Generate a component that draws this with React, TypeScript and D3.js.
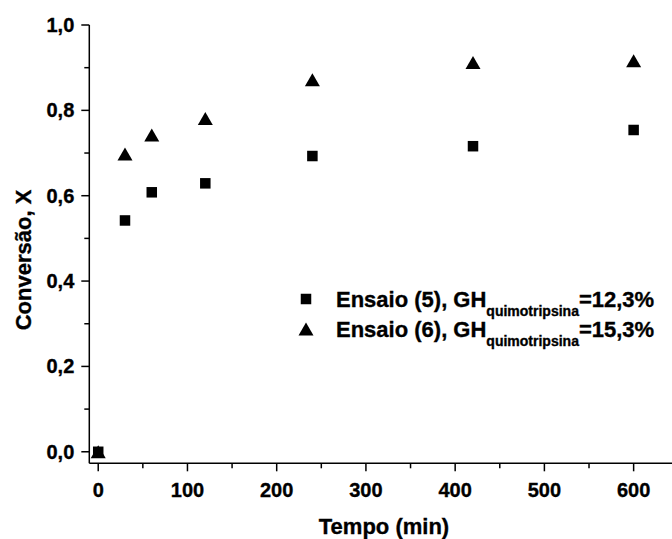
import React from "react";
import * as d3 from "d3";

const times = [0, 30, 60, 120, 240, 420, 600];
const ensaio5 = [0.0, 0.542, 0.608, 0.629, 0.693, 0.716, 0.754];
const ensaio6 = [0.0, 0.698, 0.742, 0.781, 0.872, 0.912, 0.916];
const xMajorTicks = [0, 100, 200, 300, 400, 500, 600];
const xMinorTicks = [50, 150, 250, 350, 450, 550];
const yMajorTicks = [0, 0.2, 0.4, 0.6, 0.8, 1.0];
const yMinorTicks = [0.1, 0.3, 0.5, 0.7, 0.9];

const W = 672;
const H = 539;
const FONT = "'Liberation Sans', Arial, Helvetica, sans-serif";

export default function App() {
  const x = d3.scaleLinear().domain([-10, 643]).range([89.3, 672]);
  const y = d3.scaleLinear().domain([-0.027, 1]).range([463.3, 25]);
  const x0 = x.range()[0];
  const yBase = y.range()[0];
  const fmt = (v: number) => d3.format(".1f")(v).replace(".", ",");
  const sq = 10.5;

  const triPath = (w: number, h: number) =>
    `M0,${-h / 2}L${w / 2},${h / 2}L${-w / 2},${h / 2}Z`;

  return (
    <svg
      width={W}
      height={H}
      style={{ position: "absolute", left: 0, top: 0, background: "#fff" }}
      fontFamily={FONT}
      fontWeight="bold"
    >
      <rect width={W} height={H} fill="#fff" />
      <g stroke="#000" strokeWidth={0.35}>
        {yMajorTicks.map((t) => (
          <text key={"yl" + t} x={x0 - 15} y={y(t)} dy="0.35em" textAnchor="end" fontSize={20}>
            {fmt(t)}
          </text>
        ))}
        {xMajorTicks.map((t) => (
          <text key={"xl" + t} x={x(t)} y={497} textAnchor="middle" fontSize={20}>
            {t}
          </text>
        ))}
        <text x={384} y={534} textAnchor="middle" fontSize={22}>
          Tempo (min)
        </text>
        <text transform="translate(31,260) rotate(-90)" textAnchor="middle" fontSize={22}>
          Conversão, X
        </text>
        <text x={336} y={307} fontSize={22}>
          Ensaio (5), GH
          <tspan fontSize={14} dy={9}>quimotripsina</tspan>
          <tspan dy={-9}>=12,3%</tspan>
        </text>
        <text x={336} y={337} fontSize={22}>
          Ensaio (6), GH
          <tspan fontSize={14} dy={9}>quimotripsina</tspan>
          <tspan dy={-9}>=15,3%</tspan>
        </text>
      </g>
      {/* axes */}
      <line x1={x0} x2={x0} y1={y(1)} y2={yBase} stroke="#000" strokeWidth={1.5} />
      <line x1={x0} x2={W} y1={yBase} y2={yBase} stroke="#000" strokeWidth={1.5} />
      {yMajorTicks.map((t) => (
        <line key={"ym" + t} x1={x0 - 8} x2={x0} y1={y(t)} y2={y(t)} stroke="#000" strokeWidth={1.5} />
      ))}
      {yMinorTicks.map((t) => (
        <line key={"yn" + t} x1={x0 - 5} x2={x0} y1={y(t)} y2={y(t)} stroke="#000" strokeWidth={1.5} />
      ))}
      {xMajorTicks.map((t) => (
        <line key={"xm" + t} x1={x(t)} x2={x(t)} y1={yBase} y2={yBase + 8} stroke="#000" strokeWidth={1.5} />
      ))}
      {xMinorTicks.map((t) => (
        <line key={"xn" + t} x1={x(t)} x2={x(t)} y1={yBase} y2={yBase + 5} stroke="#000" strokeWidth={1.5} />
      ))}
      {/* data */}
      {times.map((t, i) => (
        <rect
          key={"s" + i}
          x={x(t) - sq / 2}
          y={y(ensaio5[i]) - sq / 2}
          width={sq}
          height={sq}
          fill="#000"
        />
      ))}
      {times.map((t, i) => (
        <path
          key={"t" + i}
          transform={`translate(${x(t)},${y(ensaio6[i])})`}
          d={triPath(15, 13)}
          fill="#000"
        />
      ))}
      {/* legend markers */}
      <rect x={306 - sq / 2} y={299 - sq / 2} width={sq} height={sq} fill="#000" />
      <path transform="translate(306,329)" d={triPath(15, 13)} fill="#000" />
    </svg>
  );
}
